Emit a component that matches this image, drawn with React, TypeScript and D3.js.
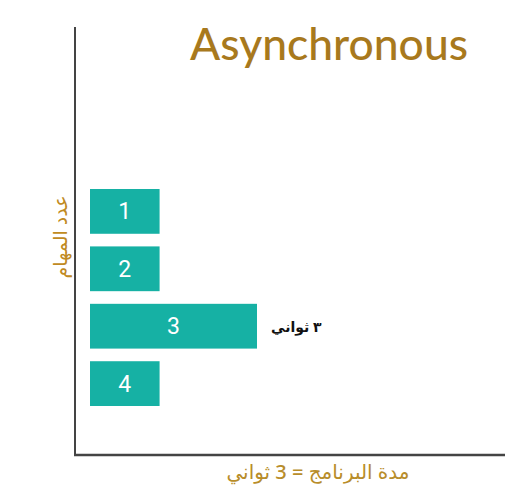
import React from 'react';
import * as d3 from 'd3';

// task ids and how long each one takes (seconds)
const tasks = ['1', '2', '3', '4'];
const durations = [1.25, 1.25, 3, 1.25];
const longest = '3';
const longestLabel = '٣ ثواني';

const title = 'Asynchronous';
const xLabel = 'مدة البرنامج = 3 ثواني';
const yLabel = 'عدد المهام';

const W = 529;
const H = 495;

const App = () => {
  const axisX = 75;
  const axisTop = 27;
  const axisBottom = 455;
  const axisRight = 505;

  const x = d3.scaleLinear().domain([0, 3]).range([90, 257]);
  const y = d3.scaleBand().domain(tasks).range([189, 406]).paddingInner(0.22);

  const teal = '#16b1a4';
  const gold = '#a8791d';
  const arabicFont = "'Noto Sans', 'DejaVu Sans', sans-serif";

  return (
    <svg width={W} height={H} style={{ position: 'absolute', left: 0, top: 0, background: '#fff' }}>
      <text x={190} y={60} fontFamily="Lato, 'Open Sans', sans-serif" fontSize={45} fontWeight={500}
        fill={gold} textLength={278} lengthAdjust="spacingAndGlyphs">{title}</text>

      <line x1={axisX} y1={axisTop} x2={axisX} y2={axisBottom} stroke="#444" strokeWidth={2} />
      <line x1={axisX - 1} y1={axisBottom} x2={axisRight} y2={axisBottom} stroke="#444" strokeWidth={2.5} />

      {tasks.map((t, i) => (
        <g key={t}>
          <rect x={x(0)} y={y(t)} width={x(durations[i]) - x(0)} height={y.bandwidth()} fill={teal} />
          <text x={(x(0) + x(durations[i])) / 2} y={(y(t) ?? 0) + y.bandwidth() / 2 + 8}
            textAnchor="middle" fill="#fff" fontFamily="Roboto, sans-serif" fontSize={23}>{t}</text>
        </g>
      ))}

      <text x={x(durations[tasks.indexOf(longest)]) + 14} y={(y(longest) ?? 0) + y.bandwidth() / 2 + 6}
        textAnchor="start" fill="#111" fontFamily={arabicFont}
        fontWeight="bold" fontSize={14}>{longestLabel}</text>

      <text x={318} y={479} textAnchor="middle" fill="#b88d2a"
        fontFamily={arabicFont} fontWeight={500} fontSize={20}>{xLabel}</text>

      <text transform={`translate(67,237) rotate(-90)`} textAnchor="middle" fill="#c08a22"
        fontFamily={arabicFont} fontSize={19}>{yLabel}</text>
    </svg>
  );
};

export default App;
